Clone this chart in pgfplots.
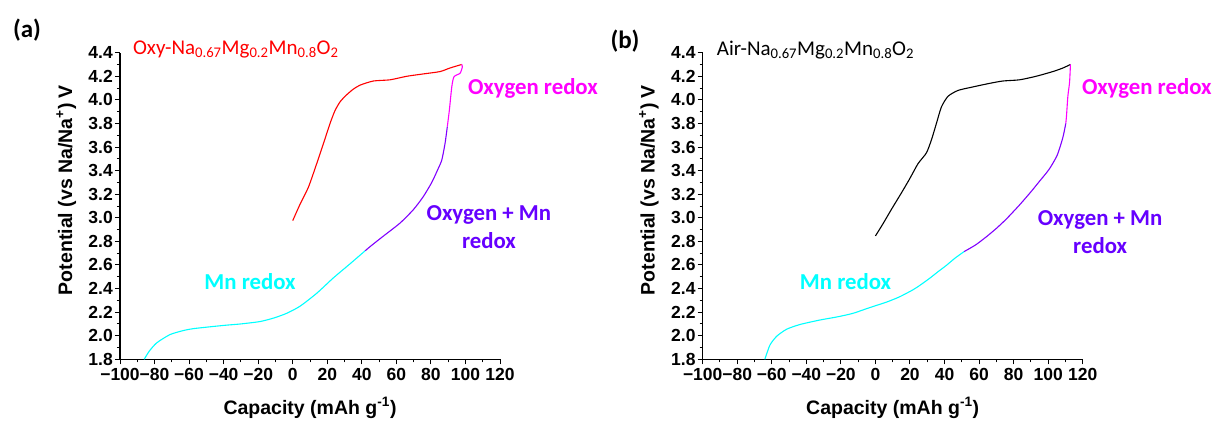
\documentclass[border=0pt]{standalone}
\usepackage{pgfplots}
\pgfplotsset{compat=1.18}
\usepackage{fontspec}
\setmainfont{Liberation Sans}
\newfontfamily\calibri{Carlito}
\definecolor{cyanC}{RGB}{0,255,255}
\definecolor{magC}{RGB}{255,0,255}
\definecolor{purC}{RGB}{128,0,255}
\definecolor{purT}{RGB}{102,0,255}
\definecolor{redC}{RGB}{255,0,0}

\tikzset{
  ann/.style={font=\calibri\bfseries\fontsize{22.8}{28}\selectfont, align=center},
  ttl/.style={font=\calibri\fontsize{21}{24}\selectfont, anchor=base west, inner sep=0pt},
}
\pgfplotsset{
  panel/.style={
    scale only axis, width=380pt, height=306.6pt,
    anchor=south west,
    xmin=-100, xmax=120, ymin=1.8, ymax=4.4,
    axis x line=bottom, axis y line=left,
    axis line style={-, line width=1.2pt},
    clip=false,
    xtick={-100,-80,...,120},
    xticklabels={−100,−80,−60,−40,−20,0,20,40,60,80,100,120},
    ytick={1.8,2.0,2.2,2.4,2.6,2.8,3.0,3.2,3.4,3.6,3.8,4.0,4.2,4.4},
    yticklabels={1.8,2.0,2.2,2.4,2.6,2.8,3.0,3.2,3.4,3.6,3.8,4.0,4.2,4.4},
    minor x tick num=1, minor y tick num=1,
    tick align=outside,
    major tick length=5pt, minor tick length=3pt,
    every tick/.style={black, line width=1pt},
    tick label style={font=\fontsize{17.5}{18}\selectfont\bfseries},
    xticklabel style={inner sep=1pt, yshift=-3pt},
    yticklabel style={inner sep=2pt},
    xlabel={Capacity (mAh g\textsuperscript{-1})},
    ylabel={Potential (vs Na/Na\textsuperscript{+}) V},
    label style={font=\fontsize{19.5}{21}\selectfont\bfseries},
    xlabel style={at={(axis description cs:0.5,0)}, anchor=base, yshift=-55pt},
    ylabel style={at={(axis description cs:0,0.552)}, anchor=base, yshift=48pt},
    every axis plot/.append style={line width=1.1pt, smooth, tension=0.4},
  },
}

\begin{document}
\begin{tikzpicture}
\useasboundingbox (0,0) rectangle (1215pt,421pt);

\node[font=\calibri\bfseries\fontsize{25}{26}\selectfont] at (27pt,391pt) {(a)};
\node[font=\calibri\bfseries\fontsize{25}{26}\selectfont] at (625pt,380pt) {(b)};

% ---------------- panel (a)
\begin{axis}[panel, at={(120pt,61.7pt)}]
\addplot[redC] coordinates {
(0,2.976) (4.4,3.12) (9.1,3.26) (13.9,3.46) (17.8,3.63) (21.6,3.80) (24.5,3.91)
(27.5,3.985) (31,4.04) (35,4.09) (39,4.125) (46.7,4.16) (56.3,4.17) (66,4.20) (75.6,4.22)
(85.3,4.24) (91,4.27) (97.8,4.30)};
\addplot[magC] coordinates {
(97.8,4.30) (98.2,4.28) (96.9,4.226) (93.4,4.197) (92.1,4.112) (90.7,3.915) (89.5,3.773)};
\addplot[purC] coordinates {
(89.5,3.773) (88.2,3.632) (86.3,3.49) (84.0,3.41) (80.5,3.30) (75.6,3.18) (69.9,3.07)
(62.1,2.955) (52.5,2.845) (46,2.77) (41.9,2.72)};
\addplot[cyanC] coordinates {
(41.9,2.72) (33.2,2.61) (23.5,2.49) (13.9,2.36) (4.2,2.25) (-3.5,2.19) (-11,2.15)
(-19,2.12) (-30,2.10) (-38,2.09) (-45,2.08) (-57.5,2.06) (-63,2.045) (-71,2.01)
(-78.7,1.94) (-83,1.87) (-86,1.80)};
\node[ttl, text=redC] at (axis cs:-92.5,4.385) {Oxy-Na\textsubscript{0.67}Mg\textsubscript{0.2}Mn\textsubscript{0.8}O\textsubscript{2}};
\node[ann, text=magC] at (axis cs:139.1,4.10) {Oxygen redox};
\node[ann, text=purT] at (axis cs:113.6,2.925) {Oxygen + Mn\\redox};
\node[ann, text=cyanC] at (axis cs:-24.7,2.456) {Mn redox};
\end{axis}

% ---------------- panel (b)
\begin{axis}[panel, at={(702.7pt,61.7pt)}]
\addplot[black] coordinates {
(0,2.846) (4.4,2.95) (9.2,3.07) (15,3.21) (19.8,3.33) (24.7,3.46) (29.5,3.55)
(32.4,3.66) (35.3,3.80) (38.2,3.94) (42,4.03) (47.8,4.08) (56.5,4.11) (66.1,4.14)
(73.8,4.16) (83.4,4.17) (93,4.20) (102.7,4.24) (108.5,4.27) (112.9,4.30)};
\addplot[magC] coordinates {
(112.9,4.30) (112.4,4.15) (111.4,4.03) (110.6,3.86) (110.2,3.80)};
\addplot[purC] coordinates {
(110.2,3.80) (108.5,3.68) (105.2,3.53) (100.5,3.41) (95,3.31) (90,3.22) (83.5,3.11)
(75.8,2.99) (70,2.91) (64.3,2.84) (58,2.77) (51.3,2.713)};
\addplot[cyanC] coordinates {
(51.3,2.713) (46,2.657) (41.1,2.597) (36,2.54) (31.4,2.487) (26,2.43) (21.8,2.39)
(14,2.33) (6.4,2.285) (-3,2.24) (-13,2.19) (-22,2.16) (-32.2,2.133)
(-43.7,2.095) (-51.4,2.055) (-57.2,1.995) (-61.1,1.92) (-64,1.80)};
\node[ttl, text=black] at (axis cs:-91.9,4.375) {Air-Na\textsubscript{0.67}Mg\textsubscript{0.2}Mn\textsubscript{0.8}O\textsubscript{2}};
\node[ann, text=magC] at (axis cs:157.1,4.10) {Oxygen redox};
\node[ann, text=purT] at (axis cs:130.1,2.875) {Oxygen + Mn\\redox};
\node[ann, text=cyanC] at (axis cs:-17.3,2.456) {Mn redox};
\end{axis}
\end{tikzpicture}
\end{document}
